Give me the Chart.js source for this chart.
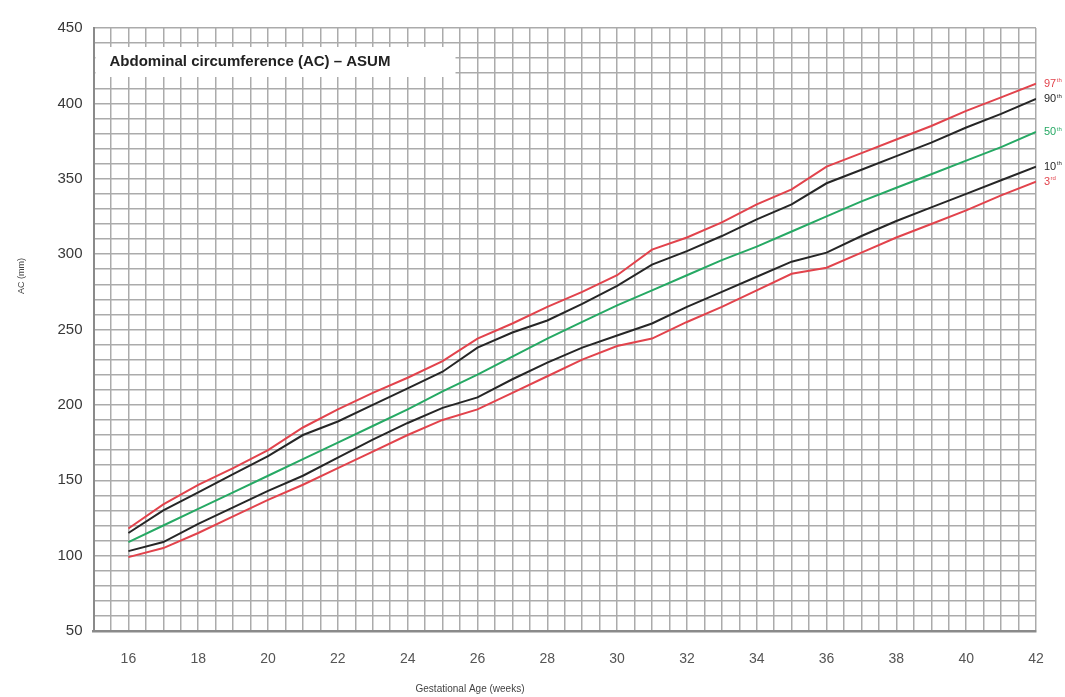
<!DOCTYPE html>
<html>
<head>
<meta charset="utf-8">
<script src="https://cdn.jsdelivr.net/npm/chart.js@4/dist/chart.umd.min.js"></script>
<style>
  body { margin: 0; background: #fff; }
  #wrap { width: 1065px; height: 697px; position: relative; }
</style>
</head>
<body>
<div id="wrap"><canvas id="acChart"></canvas></div>
<script>
// gestational age (weeks) and AC centiles (mm)
const weeks = [16, 17, 18, 19, 20, 21, 22, 23, 24, 25, 26, 27, 28, 29, 30, 31, 32, 33, 34, 35, 36, 37, 38, 39, 40, 41, 42];
const p97 = [118, 134, 147, 158, 170, 185, 197, 208, 218, 229, 244, 254, 265, 275, 286, 303, 311, 321, 333, 343, 358, 367, 376, 385, 395, 404, 413];
const p90 = [115, 130, 142, 154, 166, 180, 189, 200, 211, 222, 238, 248, 256, 267, 279, 293, 302, 312, 323, 333, 347, 356, 365, 374, 384, 393, 403];
const p50 = [109, 120, 131, 142, 153, 164, 175, 186, 197, 209, 220, 232, 244, 255, 266, 276, 286, 296, 305, 315, 325, 335, 344, 353, 362, 371, 381];
const p10 = [103, 109, 121, 132, 143, 153, 165, 177, 188, 198, 205, 217, 228, 238, 246, 254, 265, 275, 285, 295, 301, 312, 322, 331, 340, 349, 358];
const p3 = [99, 105, 115, 126, 137, 147, 158, 169, 180, 190, 197, 208, 219, 230, 239, 244, 255, 265, 276, 287, 291, 301, 311, 320, 329, 339, 348];

const xTickLabels = [16, 18, 20, 22, 24, 26, 28, 30, 32, 34, 36, 38, 40, 42];
const yTickLabels = [50, 100, 150, 200, 250, 300, 350, 400, 450];
const centileNames = ["97", "90", "50", "10", "3"];
const centileSuffix = ["th", "th", "th", "th", "rd"];

const RED = "#e2434c";
const BLACK = "#262626";
const GREEN = "#26a964";

const toPoints = (vals) => vals.map((v, i) => ({ x: weeks[i], y: v }));

const series = [
  { label: "97th", data: toPoints(p97), color: RED },
  { label: "90th", data: toPoints(p90), color: BLACK },
  { label: "50th", data: toPoints(p50), color: GREEN },
  { label: "10th", data: toPoints(p10), color: BLACK },
  { label: "3rd", data: toPoints(p3), color: RED },
];

// white title box sitting on top of the grid
const titleBox = {
  id: "titleBox",
  beforeDatasetsDraw(chart) {
    const { ctx, chartArea } = chart;
    ctx.save();
    ctx.fillStyle = "#fff";
    ctx.fillRect(chartArea.left + 2, chartArea.top + 19, 360, 30);
    ctx.fillStyle = "#222";
    ctx.font = "bold 15px 'Liberation Sans', Arial, sans-serif";
    ctx.textBaseline = "middle";
    ctx.fillText("Abdominal circumference (AC) \u2013 ASUM", chartArea.left + 16, chartArea.top + 34);
    ctx.restore();
  },
};

// centile names at line ends + axis titles
const labelsPlugin = {
  id: "centileLabels",
  afterDatasetsDraw(chart) {
    const { ctx } = chart;
    ctx.save();
    chart.data.datasets.forEach((ds, i) => {
      const meta = chart.getDatasetMeta(i);
      const last = meta.data[meta.data.length - 1];
      const x = last.x + 8;
      const y = last.y;
      ctx.fillStyle = ds.borderColor;
      ctx.textBaseline = "middle";
      ctx.font = "11px 'Liberation Sans', Arial, sans-serif";
      ctx.fillText(centileNames[i], x, y);
      const w = ctx.measureText(centileNames[i]).width;
      ctx.font = "6px 'Liberation Sans', Arial, sans-serif";
      ctx.fillText(centileSuffix[i], x + w + 0.5, y - 3);
    });

    ctx.fillStyle = "#444";
    ctx.font = "10px 'Liberation Sans', Arial, sans-serif";
    ctx.textAlign = "center";
    ctx.textBaseline = "middle";
    ctx.fillText("Gestational Age (weeks)", 470, 689);
    ctx.translate(22, 276);
    ctx.rotate(-Math.PI / 2);
    ctx.font = "9px 'Liberation Sans', Arial, sans-serif";
    ctx.fillText("AC (mm)", 0, 0);
    ctx.restore();
  },
};

new Chart(document.getElementById("acChart"), {
  type: "line",
  data: {
    datasets: series.map((s) => ({
      label: s.label,
      data: s.data,
      borderColor: s.color,
      backgroundColor: s.color,
      borderWidth: 2,
      pointRadius: 0,
      tension: 0,
      fill: false,
    })),
  },
  options: {
    responsive: true,
    maintainAspectRatio: false,
    animation: false,
    layout: { padding: { top: 28, right: 29, left: 0, bottom: 0 } },
    plugins: {
      legend: { display: false },
      tooltip: { enabled: false },
    },
    scales: {
      x: {
        type: "linear",
        min: 15,
        max: 42,
        afterFit(scale) { scale.height = 66; },
        afterBuildTicks(scale) {
          const t = [];
          for (let v = 15; v <= 42.001; v += 0.5) t.push({ value: v });
          scale.ticks = t;
        },
        ticks: {
          autoSkip: false,
          maxRotation: 0,
          padding: 20,
          color: "#555",
          font: { size: 14, family: "'Liberation Sans', Arial, sans-serif" },
          callback: (v) => (xTickLabels.includes(v) ? String(v) : ""),
        },
        grid: { color: "#ababab", lineWidth: 1.5, drawTicks: false },
        border: { color: "#8a8a8a", width: 2.5 },
      },
      y: {
        min: 50,
        max: 450,
        afterFit(scale) { scale.width = 93.5; },
        ticks: {
          stepSize: 10,
          autoSkip: false,
          padding: 11,
          color: "#383838",
          font: { size: 15, family: "'Liberation Sans', Arial, sans-serif" },
          callback: (v) => (yTickLabels.includes(v) ? String(v) : ""),
        },
        grid: { color: "#ababab", lineWidth: 1.5, drawTicks: false },
        border: { color: "#8a8a8a", width: 2 },
      },
    },
  },
  plugins: [titleBox, labelsPlugin],
});
</script>
</body>
</html>
